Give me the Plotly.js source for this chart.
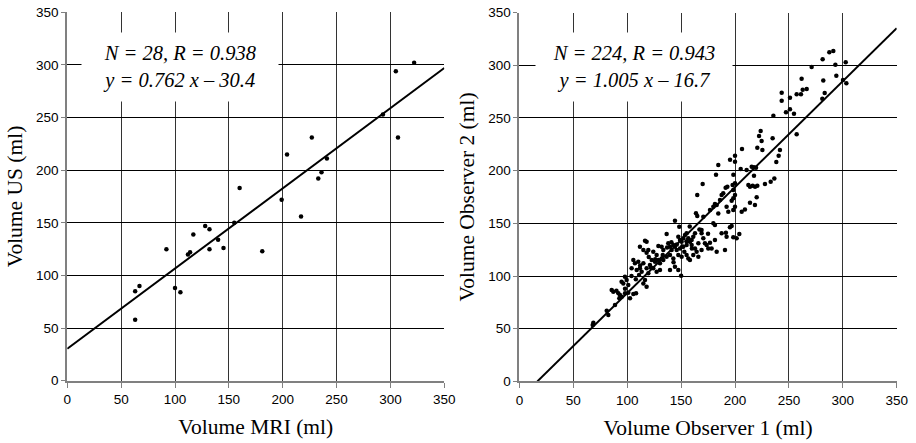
<!DOCTYPE html>
<html>
<head>
<meta charset="utf-8">
<script src="https://cdn.plot.ly/plotly-3.0.1.min.js"></script>
<style>html,body{margin:0;padding:0;background:#fff;}#chart{width:916px;height:443px;}</style>
</head>
<body>
<div id="chart"></div>
<script>
// ---- Left panel: MRI vs US ----
const mriVolume = [322, 305, 293, 307, 227, 204, 241, 236, 233, 160, 199, 217, 128, 132, 117, 92, 140, 145, 132, 114, 112, 181, 155, 67, 63, 100, 105, 63];
const usVolume  = [302, 294, 253, 231, 231, 215, 211, 198, 192, 183, 172, 156, 147, 144, 139, 125, 134, 126, 125, 122, 120, 123, 150, 90, 85, 88, 84, 58];
const leftFit = {slope: 0.762, intercept: 30.4};
const leftLabel = ["N = 28, R = 0.938", "y = 0.762 x \u2013 30.4"];

// ---- Right panel: Observer 1 vs Observer 2 ----
const observer1 = [
 291.2,287.5,281.3,293.1,302.7,271.1,261.8,281.9,294.0,300.2,303.3,266.5,262.8,261.2,257.2,283.2,281.0,243.3,243.3,251.0,
 247.3,251.0,254.7,235.6,257.2,223.8,222.3,224.7,234.9,220.7,225.4,206.5,200.0,195.4,200.0,241.7,240.5,238.3,184.5,182.4,
 198.5,205.3,210.8,215.5,217.6,219.5,217.6,170.0,191.3,192.9,197.8,200.0,212.4,213.9,216.4,218.6,220.7,227.8,233.1,236.5,
 189.1,187.6,198.4,200.0,198.4,196.9,220.1,213.9,218.5,209.2,206.2,200.0,198.4,192.2,193.8,186.1,183.0,181.4,179.9,176.8,
 184.5,170.6,179.9,181.4,196.9,195.3,169.0,169.0,187.6,191.6,192.2,198.4,201.5,204.0,170.6,172.1,173.7,176.8,181.4,175.2,
 169.0,183.0,190.7,178.3,
 165.0,163.8,165.0,144.3,148.3,136.6,116.5,118.0,111.8,115.0,119.6,118.0,128.9,131.9,133.5,138.1,139.7,141.2,142.8,147.4,
 149.0,150.5,152.0,153.6,155.1,156.7,
 144.3,145.9,149.0,152.0,155.1,158.2,159.8,161.3,162.9,159.8,162.9,166.0,
 136.6,139.7,142.8,147.4,150.5,155.1,158.2,156.7,161.3,164.4,166.0,
 124.2,127.3,128.9,125.8,122.7,121.1,124.2,131.9,130.4,133.5,
 105.7,107.2,110.3,111.8,108.8,104.1,113.4,118.0,119.6,
 127.3,130.4,139.7,144.3,147.4,
 97.9,99.5,96.4,101.0,94.8,116.5,118.0,115.0,
 150.0,
 85.6,87.1,91.8,93.3,94.9,92.7,98.0,101.0,105.7,108.2,102.6,88.7,81.0,82.5,68.6,68.0,
 158,167,146,151,155,160,137,141,133,126,120,112,115,104,108,111,98,90,122,143,153,175
];
const observer2 = [
 313.5,312.2,305.6,300.5,302.7,298.3,287.2,285.6,290.1,286.0,282.8,277.4,276.8,272.4,272.4,273.6,268.2,273.9,266.3,269.2,
 255.3,258.1,254.0,252.1,234.4,237.6,232.8,228.1,230.6,221.7,219.5,220.5,214.1,210.4,208.5,219.5,214.2,208.1,205.3,196.1,
 196.1,201.5,200.5,203.7,203.1,202.8,195.2,187.3,183.8,184.7,186.3,187.9,186.3,184.7,185.7,184.7,185.7,187.3,189.5,192.6,
 178.4,176.9,181.6,176.9,173.7,171.5,174.6,169.6,167.4,163.2,161.0,165.8,162.6,165.8,161.0,172.1,167.4,168.3,165.8,162.6,
 159.4,156.3,150.0,148.4,147.4,146.2,143.6,140.5,140.5,141.1,137.3,136.7,135.7,139.8,135.7,131.0,129.4,131.6,134.1,126.2,
 124.7,123.1,124.7,126.2,
 176.8,159.5,156.9,152.5,146.8,139.8,133.5,132.6,127.8,124.7,124.7,122.1,128.5,127.8,124.7,131.0,127.8,124.7,129.4,137.3,
 134.1,132.6,135.7,138.9,140.5,135.7,
 127.8,124.7,126.2,127.8,129.4,132.6,134.1,137.3,140.5,129.4,126.2,131.0,
 118.3,119.9,116.7,119.9,118.3,119.9,115.2,116.7,119.9,123.1,118.3,
 123.1,119.9,115.2,113.6,115.2,110.4,107.3,116.7,112.0,115.2,
 115.2,112.0,113.6,107.3,105.7,107.3,104.1,107.3,102.5,
 104.1,105.7,105.7,108.8,105.7,
 99.3,96.2,93.0,91.4,94.6,96.2,89.9,93.0,
 100.3,
 86.7,85.1,83.6,82.0,80.4,78.8,83.6,84.2,82.9,83.6,78.8,72.5,67.1,63.0,55.7,53.5,
 147,144,130,128,133,126,127,132,120,116,118,110,112,100,97,101,88,86,108,113,123,140
];
const rightFit = {slope: 1.005, intercept: -16.7};
const rightLabel = ["N = 224, R = 0.943", "y = 1.005 x \u2013 16.7"];

const axisMax = 350;
const tickStep = 50;

function fitLine(fit) {
  let x0 = 0;
  if (fit.intercept < 0) x0 = -fit.intercept / fit.slope;
  let x1 = axisMax;
  let y1 = fit.slope * x1 + fit.intercept;
  if (y1 > axisMax) { x1 = (axisMax - fit.intercept) / fit.slope; y1 = axisMax; }
  return {x: [x0, x1], y: [fit.slope * x0 + fit.intercept, y1]};
}
const lf = fitLine(leftFit), rf = fitLine(rightFit);

const markerStyle = {color: '#000', size: 4.5};
const traces = [
  {x: mriVolume, y: usVolume, mode: 'markers', type: 'scatter', marker: markerStyle, xaxis: 'x', yaxis: 'y', hoverinfo: 'x+y'},
  {x: lf.x, y: lf.y, mode: 'lines', type: 'scatter', line: {color: '#000', width: 2}, xaxis: 'x', yaxis: 'y', hoverinfo: 'skip'},
  {x: observer1, y: observer2, mode: 'markers', type: 'scatter', marker: markerStyle, xaxis: 'x2', yaxis: 'y2', hoverinfo: 'x+y'},
  {x: rf.x, y: rf.y, mode: 'lines', type: 'scatter', line: {color: '#000', width: 2}, xaxis: 'x2', yaxis: 'y2', hoverinfo: 'skip'}
];

const W = 916, H = 443;
const tickFont = {family: 'Liberation Sans, Arial, sans-serif', size: 13.5, color: '#000'};
const titleFont = {family: 'Liberation Serif, Times New Roman, serif', size: 21.5, color: '#000'};
function xAxis(domain, title, anchor) {
  return {domain: domain, range: [0, axisMax], dtick: tickStep, tick0: 0, anchor: anchor,
    showgrid: true, gridcolor: '#333', gridwidth: 1, zeroline: false,
    showline: true, linecolor: '#808080', linewidth: 2,
    ticks: 'outside', ticklen: 5, tickcolor: '#808080', tickwidth: 1,
    tickfont: tickFont, title: {text: title, font: titleFont, standoff: 13}, fixedrange: true};
}
function yAxis(domain, title, anchor) {
  return {domain: domain, range: [0, axisMax], dtick: tickStep, tick0: 0, anchor: anchor,
    showgrid: true, gridcolor: '#000', gridwidth: 1, zeroline: false,
    showline: true, linecolor: '#808080', linewidth: 2,
    ticks: 'outside', ticklen: 4, tickcolor: '#808080', tickwidth: 1,
    tickfont: tickFont, title: {text: title, font: titleFont, standoff: 8}, fixedrange: true};
}

const annFont = {family: 'Liberation Serif, Times New Roman, serif', size: 20.5, color: '#000'};
function label(lines, xc) {
  return {xref: 'paper', yref: 'paper', x: xc / W, y: 1 - 67 / H, xanchor: 'center', yanchor: 'middle',
    text: '<i>' + lines.join('<br>') + '</i>', showarrow: false, font: annFont,
    bgcolor: '#fff', width: 194, height: 66, align: 'center'};
}

const layout = {
  width: W, height: H,
  margin: {l: 0, r: 0, t: 0, b: 0},
  paper_bgcolor: '#fff', plot_bgcolor: '#fff',
  showlegend: false,
  xaxis: xAxis([67.3 / W, 444.3 / W], 'Volume MRI (ml)', 'y'),
  yaxis: yAxis([(H - 380.7) / H, (H - 12.3) / H], 'Volume US (ml)', 'x'),
  xaxis2: xAxis([519.4 / W, 896.7 / W], 'Volume Observer 1 (ml)', 'y2'),
  yaxis2: yAxis([(H - 381.4) / H, (H - 12.5) / H], 'Volume Observer 2 (ml)', 'x2'),
  annotations: [label(leftLabel, 180), label(rightLabel, 634)]
};

Plotly.newPlot('chart', traces, layout, {displayModeBar: false, staticPlot: true});
</script>
</body>
</html>
